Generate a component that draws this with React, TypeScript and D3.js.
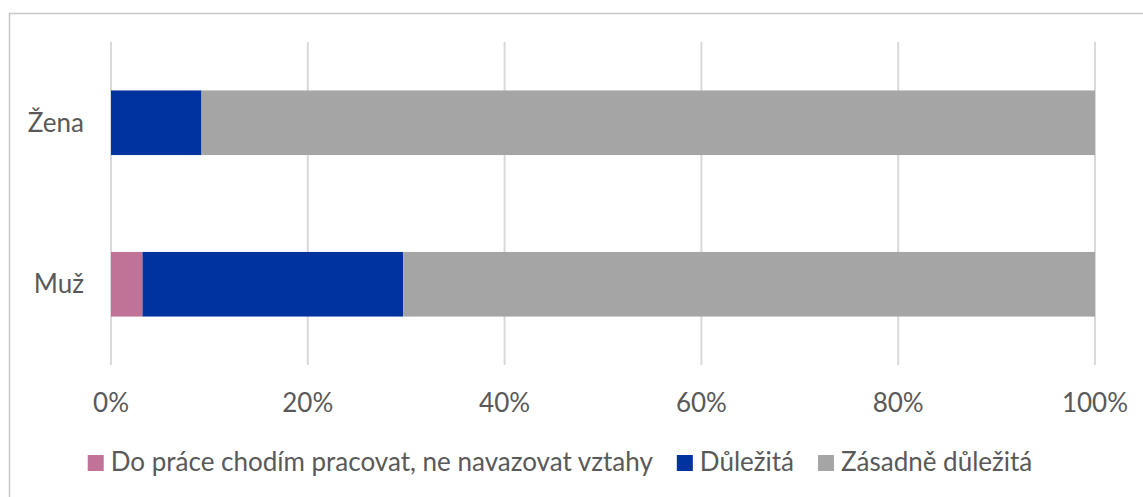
import React, { useEffect, useRef } from 'react';
import * as d3 from 'd3';

const categories = ['Žena', 'Muž'];
const seriesNames = ['Do práce chodím pracovat, ne navazovat vztahy', 'Důležitá', 'Zásadně důležitá'];
const seriesColors = ['#C07397', '#0033A0', '#A5A5A5'];
// percentages per category, same order as seriesNames
const zenaValues = [0, 9.2, 90.8];
const muzValues = [3.2, 26.5, 70.3];
const xTicks = [0, 20, 40, 60, 80, 100];

const W = 1143;
const H = 497;
const FONT = 'Lato, "Open Sans", sans-serif';
const TEXT = '#595959';

export default function App() {
  const legendRef = useRef<SVGGElement>(null);

  useEffect(() => {
    document.body.style.margin = '0';
    if (!legendRef.current) return;
    const g = d3.select(legendRef.current);
    g.selectAll('*').remove();

    const items = g.selectAll('g.item')
      .data(seriesNames)
      .enter()
      .append('g')
      .attr('class', 'item');

    items.append('rect')
      .attr('width', 16)
      .attr('height', 16)
      .attr('y', -16)
      .attr('fill', (_, i) => seriesColors[i]);

    items.append('text')
      .attr('x', 23)
      .attr('y', 0)
      .attr('font-size', 26)
      .attr('font-family', FONT)
      .attr('fill', TEXT)
      .text(d => d);

    // lay items out left to right, then centre the row
    let x = 0;
    items.each(function () {
      const node = this as SVGGElement;
      const tw = (node.querySelector('text') as SVGTextElement).getComputedTextLength();
      d3.select(node).attr('transform', `translate(${x},0)`);
      x += 23 + tw + 24;
    });
    const total = x - 24;
    g.attr('transform', `translate(${560 - total / 2},471)`);
  }, []);

  const x = d3.scaleLinear().domain([0, 100]).range([111, 1095]);
  const y = d3.scaleBand<string>()
    .domain(categories)
    .range([42, 365])
    .paddingInner(0.6)
    .paddingOuter(0.3);

  const rows = [zenaValues, muzValues].map((vals, ci) => {
    let acc = 0;
    return vals.map((v, si) => {
      const seg = { cat: categories[ci], s: si, x0: acc, x1: acc + v };
      acc += v;
      return seg;
    });
  });

  return (
    <svg width={W} height={H} style={{ display: 'block', background: '#fff' }}>
      <rect x={9.5} y={13.5} width={W} height={H} fill="none" stroke="#C8C8C8" strokeWidth={1.5} />

      {xTicks.map(t => (
        <g key={t}>
          <line x1={x(t)} x2={x(t)} y1={42} y2={365} stroke="#D9D9D9" strokeWidth={2} />
          <text x={x(t)} y={412} textAnchor="middle" fontSize={26} fontFamily={FONT} fill={TEXT}>
            {t}%
          </text>
        </g>
      ))}

      {rows.map(segs =>
        segs.filter(d => d.x1 > d.x0).map(d => (
          <rect
            key={d.cat + d.s}
            x={x(d.x0)}
            y={y(d.cat)}
            width={x(d.x1) - x(d.x0)}
            height={y.bandwidth()}
            fill={seriesColors[d.s]}
          />
        ))
      )}

      {categories.map(c => (
        <text
          key={c}
          x={84}
          y={(y(c) as number) + y.bandwidth() / 2}
          dy="0.35em"
          textAnchor="end"
          fontSize={26}
          fontFamily={FONT}
          fill={TEXT}
        >
          {c}
        </text>
      ))}

      <g ref={legendRef} />
    </svg>
  );
}
